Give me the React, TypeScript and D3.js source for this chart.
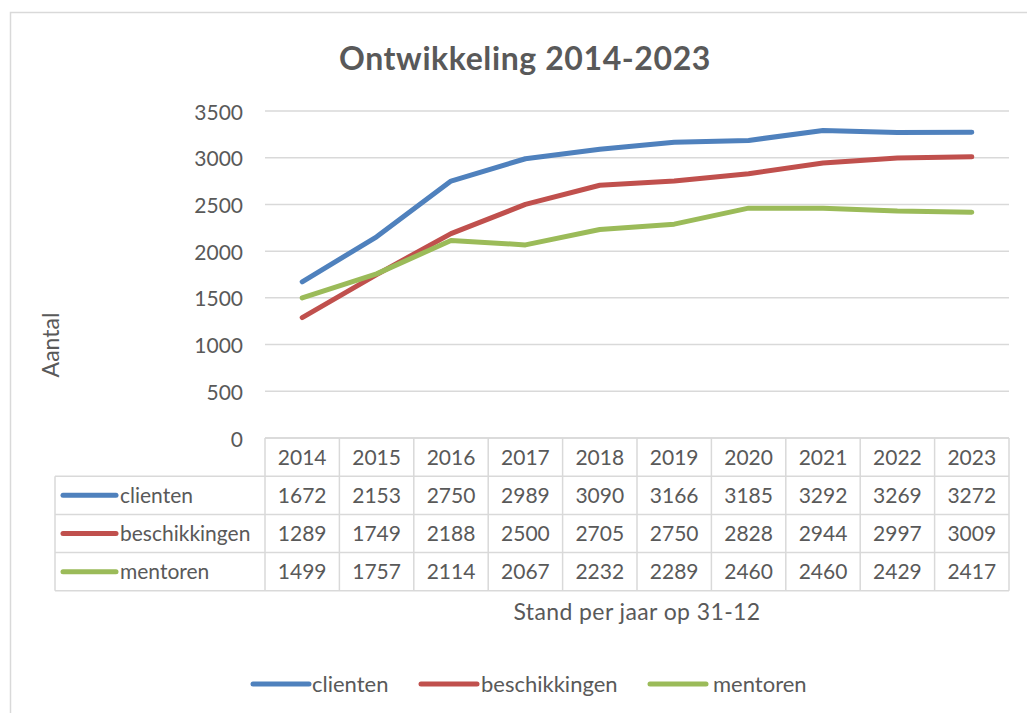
import React from "react";
import * as d3 from "d3";

const years = ["2014", "2015", "2016", "2017", "2018", "2019", "2020", "2021", "2022", "2023"];
const clienten = [1672, 2153, 2750, 2989, 3090, 3166, 3185, 3292, 3269, 3272];
const beschikkingen = [1289, 1749, 2188, 2500, 2705, 2750, 2828, 2944, 2997, 3009];
const mentoren = [1499, 1757, 2114, 2067, 2232, 2289, 2460, 2460, 2429, 2417];
const yTicks = [0, 500, 1000, 1500, 2000, 2500, 3000, 3500];

const seriesNames = ["clienten", "beschikkingen", "mentoren"];
const seriesColors = ["#4F81BD", "#C0504D", "#9BBB59"];
const seriesValues = [clienten, beschikkingen, mentoren];

const W = 1027;
const H = 713;
const plotLeft = 265;
const plotRight = 1009;
const plotTop = 111;
const plotBottom = 438;
const labelLeft = 55;
const rowH = 38.2;
const textColor = "#595959";
const gridColor = "#d9d9d9";
const font = "Lato, 'Open Sans', sans-serif";

export default function App() {
  const x = d3.scaleBand<string>().domain(years).range([plotLeft, plotRight]).padding(0);
  const y = d3.scaleLinear().domain([0, 3500]).range([plotBottom, plotTop]);
  const line = d3
    .line<number>()
    .x((_, i) => (x(years[i]) as number) + x.bandwidth() / 2)
    .y((d) => y(d));

  const tableBottom = plotBottom + rowH * 4;
  const rowY = (r: number) => plotBottom + rowH * r;

  const legendItems = [
    { key: 253, text: 312 },
    { key: 421, text: 481 },
    { key: 650, text: 713 },
  ];

  return (
    <svg
      width={W}
      height={H}
      style={{ position: "absolute", left: 0, top: 0, background: "#fff" }}
      fontFamily={font}
    >
      <rect x={0} y={0} width={W} height={H} fill="#fff" />
      {/* outer chart frame */}
      <path d={`M10.5,${H + 5} L10.5,12.5 L${W + 5},12.5`} fill="none" stroke={gridColor} strokeWidth={1.5} />

      {/* title */}
      <text x={525} y={57} textAnchor="middle" dominantBaseline="central" fontSize={32} fontWeight="bold" fill={textColor} letterSpacing={0.6}>
        Ontwikkeling 2014-2023
      </text>

      {/* gridlines */}
      {yTicks.map((t) => (
        <line key={t} x1={plotLeft} x2={plotRight} y1={y(t)} y2={y(t)} stroke={gridColor} strokeWidth={1.5} />
      ))}

      {/* y tick labels */}
      {yTicks.map((t) => (
        <text key={t} x={243} y={y(t)} textAnchor="end" dominantBaseline="central" fontSize={21} fill={textColor}>
          {t}
        </text>
      ))}

      {/* y axis title */}
      <text
        transform={`translate(50,345) rotate(-90)`}
        textAnchor="middle"
        dominantBaseline="central"
        fontSize={23}
        fill={textColor}
      >
        Aantal
      </text>

      {/* series lines */}
      {seriesValues.map((vals, si) => (
        <path
          key={si}
          d={line(vals) || ""}
          fill="none"
          stroke={seriesColors[si]}
          strokeWidth={5}
          strokeLinejoin="round"
          strokeLinecap="round"
        />
      ))}

      {/* data table grid */}
      <g stroke={gridColor} strokeWidth={1.5}>
        <line x1={plotLeft} x2={plotRight} y1={rowY(0)} y2={rowY(0)} />
        {[1, 2, 3, 4].map((r) => (
          <line key={r} x1={labelLeft} x2={plotRight} y1={rowY(r)} y2={rowY(r)} />
        ))}
        <line x1={labelLeft} x2={labelLeft} y1={rowY(1)} y2={tableBottom} />
        {years.map((yr) => (
          <line key={yr} x1={x(yr) as number} x2={x(yr) as number} y1={rowY(0)} y2={tableBottom} />
        ))}
        <line x1={plotRight} x2={plotRight} y1={rowY(0)} y2={tableBottom} />
      </g>

      {/* header years */}
      {years.map((yr) => (
        <text
          key={yr}
          x={(x(yr) as number) + x.bandwidth() / 2}
          y={rowY(0) + rowH / 2 - 1}
          textAnchor="middle"
          dominantBaseline="central"
          fontSize={21}
          fill={textColor}
        >
          {yr}
        </text>
      ))}

      {/* table rows */}
      {seriesValues.map((vals, si) => (
        <g key={si}>
          <line
            x1={63}
            x2={116}
            y1={rowY(si + 1) + rowH / 2}
            y2={rowY(si + 1) + rowH / 2}
            stroke={seriesColors[si]}
            strokeWidth={5}
            strokeLinecap="round"
          />
          <text x={120} y={rowY(si + 1) + rowH / 2 - 1} dominantBaseline="central" fontSize={21} fill={textColor}>
            {seriesNames[si]}
          </text>
          {vals.map((v, i) => (
            <text
              key={i}
              x={(x(years[i]) as number) + x.bandwidth() / 2}
              y={rowY(si + 1) + rowH / 2 - 1}
              textAnchor="middle"
              dominantBaseline="central"
              fontSize={21}
              fill={textColor}
            >
              {v}
            </text>
          ))}
        </g>
      ))}

      {/* x axis title */}
      <text
        x={(plotLeft + plotRight) / 2}
        y={611}
        textAnchor="middle"
        dominantBaseline="central"
        fontSize={23}
        fill={textColor}
        letterSpacing={0.4}
      >
        Stand per jaar op 31-12
      </text>

      {/* legend */}
      {seriesNames.map((name, si) => (
        <g key={name}>
          <line
            x1={legendItems[si].key}
            x2={legendItems[si].key + 56}
            y1={684}
            y2={684}
            stroke={seriesColors[si]}
            strokeWidth={5}
            strokeLinecap="round"
          />
          <text x={legendItems[si].text} y={683} dominantBaseline="central" fontSize={22} fill={textColor}>
            {name}
          </text>
        </g>
      ))}
    </svg>
  );
}
